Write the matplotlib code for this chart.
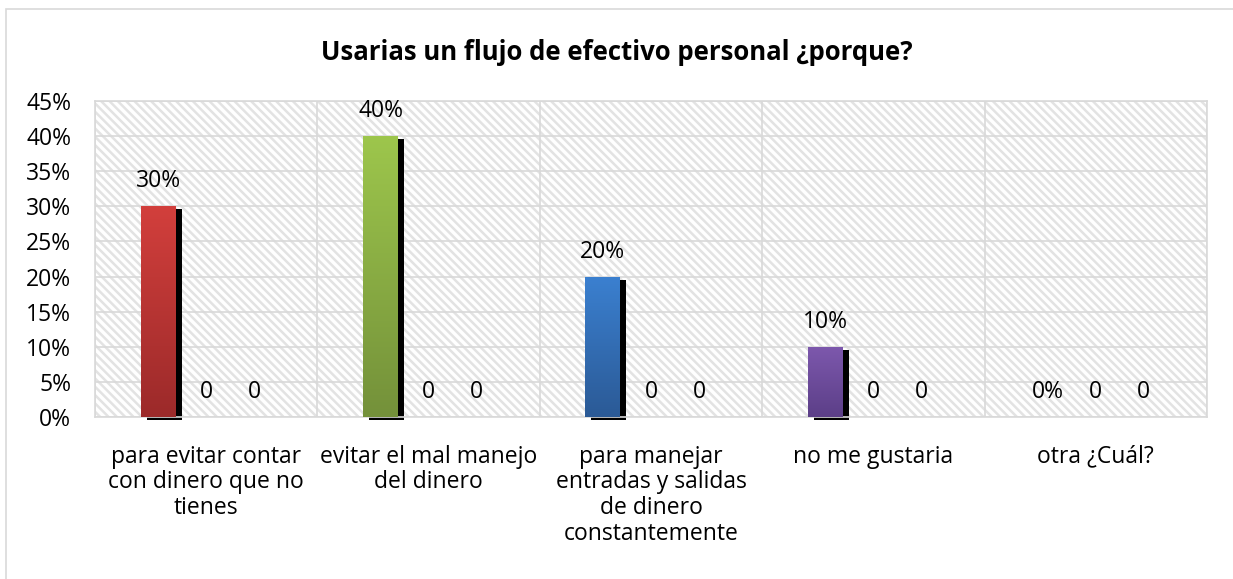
import numpy as np
import matplotlib
matplotlib.use('Agg')
from matplotlib import pyplot as plt
from matplotlib.patches import Rectangle
from matplotlib.transforms import ScaledTranslation

plt.rcParams['font.family'] = ['Open Sans', 'DejaVu Sans']
plt.rcParams['hatch.linewidth'] = 1.8

# data
categories = ['para evitar contar\ncon dinero que no\ntienes',
              'evitar el mal manejo\ndel dinero',
              'para manejar\nentradas y salidas\nde dinero\nconstantemente',
              'no me gustaria',
              'otra ¿Cuál?']
serie1 = [0.30, 0.40, 0.20, 0.10, 0.0]
serie2 = [0, 0, 0, 0, 0]
serie3 = [0, 0, 0, 0, 0]
top_colors = ['#d23f3c', '#9dc64c', '#3b80d0', '#7d58ad']
bottom_colors = ['#9c2a2a', '#74913a', '#2b5a96', '#5c3f88']
title = 'Usarias un flujo de efectivo personal ¿porque?'

fs = 16.5

fig = plt.figure(figsize=(12.33, 5.79), dpi=100)
fig.patches.append(Rectangle((6 / 1233, -0.1), 1.2, 1 - 9 / 579 + 0.1,
                             transform=fig.transFigure, fill=False,
                             edgecolor='#d9d9d9', linewidth=1.2))
ax = fig.add_axes([0.0770, 0.2798, 0.9019, 0.5458])

# hatched plot area
ax.add_patch(Rectangle((0, 0), 1, 1, transform=ax.transAxes, facecolor='white',
                       edgecolor='#e3e3e3', hatch='\\\\\\\\', linewidth=0, zorder=0))

x = np.arange(len(categories))
w = 0.157
step = 0.216

bars = ax.bar(x - step, serie1, w, zorder=3)
ax.bar(x, serie2, w, zorder=3)
ax.bar(x + step, serie3, w, zorder=3)

shadow_tr = ax.transData + ScaledTranslation(6 / 100, -3 / 100, fig.dpi_scale_trans)
for i, b in enumerate(bars):
    h = b.get_height()
    if h <= 0:
        continue
    b.set_facecolor('none')
    b.set_edgecolor('none')
    ax.bar(b.get_x() + b.get_width() / 2, h, w, color='black', zorder=2,
           transform=shadow_tr, clip_on=False)
    c1 = np.array(matplotlib.colors.to_rgb(top_colors[i]))
    c2 = np.array(matplotlib.colors.to_rgb(bottom_colors[i]))
    t = np.linspace(0, 1, 100)[:, None]
    grad = (c1 * (1 - t) + c2 * t)[:, None, :]
    im = ax.imshow(grad, extent=[b.get_x(), b.get_x() + b.get_width(), 0, h],
                   aspect='auto', zorder=3, origin='upper')
    im.set_clip_path(b)

for xi, v in zip(x, serie1):
    ax.annotate('%d%%' % round(v * 100), (xi - step, v), xytext=(0, 18),
                textcoords='offset points', ha='center', va='center', fontsize=fs)
for xi, v in zip(x, serie2):
    ax.annotate('%d' % v, (xi, v), xytext=(0, 18),
                textcoords='offset points', ha='center', va='center', fontsize=fs)
for xi, v in zip(x, serie3):
    ax.annotate('%d' % v, (xi + step, v), xytext=(0, 18),
                textcoords='offset points', ha='center', va='center', fontsize=fs)

ax.set_xlim(-0.5, len(categories) - 0.5)
ax.set_ylim(0, 0.45)
ax.set_yticks(np.arange(0, 0.46, 0.05))
ax.set_yticklabels(['%d%%' % round(t * 100) for t in np.arange(0, 0.46, 0.05)], fontsize=fs)
ax.set_xticks(x)
ax.set_xticklabels(categories, fontsize=fs, linespacing=1.09)
ax.set_xticks(np.arange(-0.5, len(categories), 1), minor=True)
ax.tick_params(axis='both', which='both', length=0)
ax.tick_params(axis='y', pad=17)
ax.tick_params(axis='x', pad=20)
ax.grid(True, axis='y', color='#d9d9d9', linewidth=1.2, zorder=1)
ax.grid(True, axis='x', which='minor', color='#d9d9d9', linewidth=1.2, zorder=1)
ax.set_axisbelow(True)
for s in ax.spines.values():
    s.set_color('#d9d9d9')
    s.set_linewidth(1.2)

fig.text(0.5, 1 - 52 / 579, title, ha='center', va='center', fontsize=18.5, fontweight='bold')

plt.savefig('out.png', dpi=100)
plt.close()
